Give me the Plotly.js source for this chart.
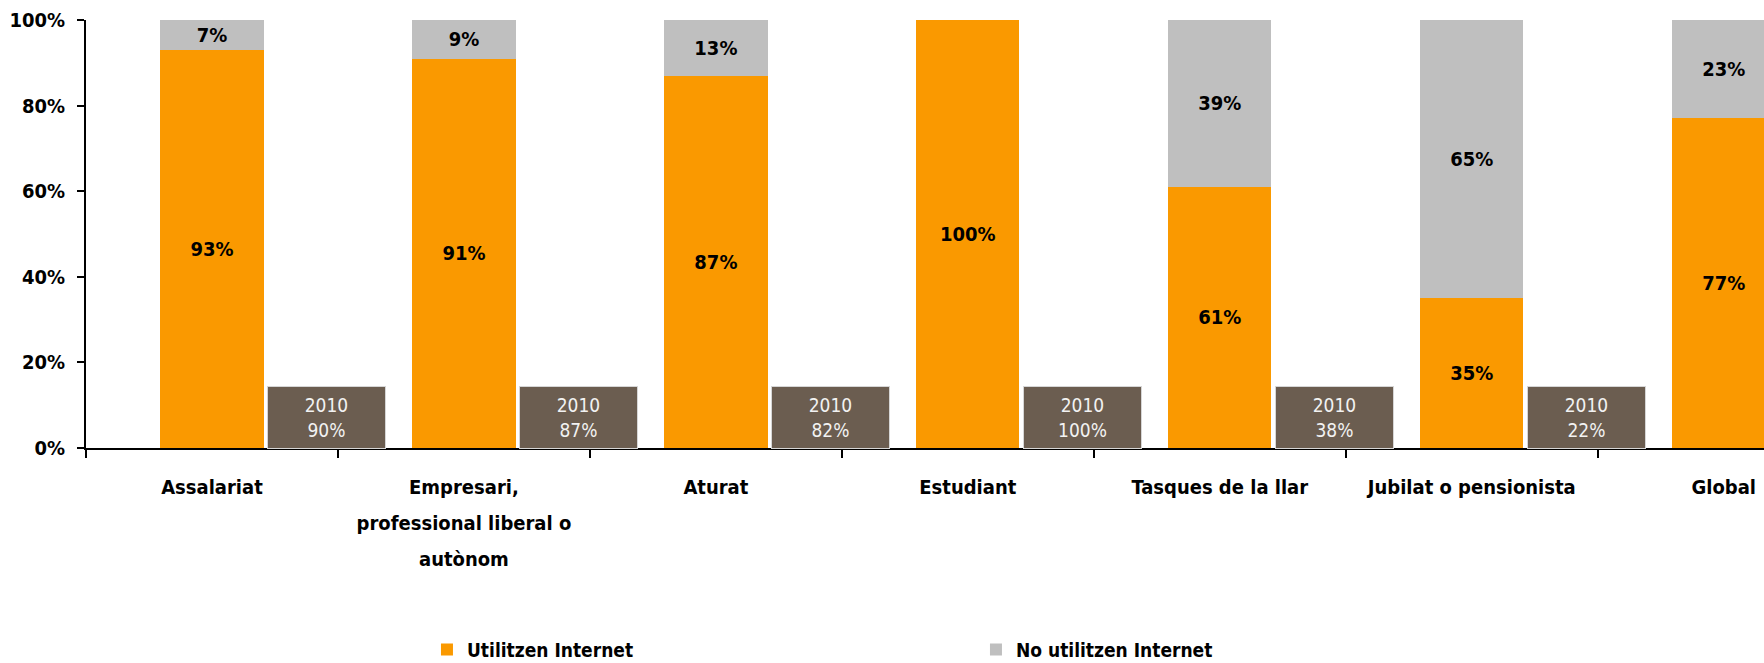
<!DOCTYPE html>
<html>
<head>
<meta charset="utf-8">
<script src="https://cdn.plot.ly/plotly-3.0.1.min.js"></script>
<style>
  html, body { margin: 0; padding: 0; background: #ffffff; }
  #chart { width: 1764px; height: 663px; }
</style>
</head>
<body>
<div id="chart"></div>
<script>
// ---- Data ----
const categories = [
  'Assalariat',
  'Empresari, professional liberal o autònom',
  'Aturat',
  'Estudiant',
  'Tasques de la llar',
  'Jubilat o pensionista',
  'Global'
];
const tickLabels = [
  'Assalariat',
  'Empresari,<br>professional liberal o<br>autònom',
  'Aturat',
  'Estudiant',
  'Tasques de la llar',
  'Jubilat o pensionista',
  'Global'
];
const utilitzen = [93, 91, 87, 100, 61, 35, 77];
const noUtilitzen = [7, 9, 13, 0, 39, 65, 23];
const utilitzen2010 = [90, 87, 82, 100, 38, 22, null];
const label2010 = '2010';

// ---- Styles ----
const FONT = "'DejaVu Sans Condensed', 'DejaVu Sans', sans-serif";
const ORANGE = '#fa9900';
const GREY = '#bfbfbf';
const BOX = '#6b5d50';

const pct = v => (v > 0 ? v + '%' : '');

const traces = [
  {
    type: 'bar',
    name: 'Utilitzen Internet',
    x: categories,
    y: utilitzen,
    width: 0.41,
    marker: { color: ORANGE, line: { width: 0 } },
    text: utilitzen.map(pct),
    textposition: 'inside',
    insidetextanchor: 'middle',
    textangle: 0,
    constraintext: 'none',
    textfont: { family: FONT, size: 20, color: '#000000', weight: 'bold' },
    hoverinfo: 'x+y'
  },
  {
    type: 'bar',
    name: 'No utilitzen Internet',
    x: categories,
    y: noUtilitzen,
    width: 0.41,
    marker: { color: GREY, line: { width: 0 } },
    text: noUtilitzen.map(pct),
    textposition: 'inside',
    insidetextanchor: 'middle',
    textangle: 0,
    constraintext: 'none',
    textfont: { family: FONT, size: 20, color: '#000000', weight: 'bold' },
    hoverinfo: 'x+y'
  }
];

const annotations = [];
utilitzen2010.forEach((v, i) => {
  if (v === null) return;
  annotations.push({
    xref: 'x', yref: 'y',
    x: i + 0.454, y: 0,
    xanchor: 'center', yanchor: 'bottom',
    yshift: -1,
    text: label2010 + '<br>' + v + '%',
    showarrow: false,
    width: 115, height: 59,
    bgcolor: BOX,
    bordercolor: '#d6d6d6',
    borderwidth: 1,
    borderpad: 1,
    font: { family: FONT, size: 19, color: '#f2f2f2' }
  });
});

const layout = {
  width: 1764,
  height: 663,
  margin: { l: 86, r: 0, t: 20, b: 215, autoexpand: false },
  paper_bgcolor: '#ffffff',
  plot_bgcolor: '#ffffff',
  barmode: 'stack',
  showlegend: true,
  legend: {
    orientation: 'h',
    x: 0.2032, xanchor: 'left',
    yref: 'container',
    y: 0.02, yanchor: 'middle',
    traceorder: 'normal',
    entrywidth: 504,
    font: { family: FONT, size: 19, color: '#000000', weight: 'bold' },
    bgcolor: 'rgba(0,0,0,0)'
  },
  xaxis: {
    type: 'category',
    range: [-0.5, 6.16],
    tickmode: 'array',
    tickvals: categories,
    ticktext: tickLabels,
    tickson: 'boundaries',
    ticks: 'outside',
    ticklen: 8,
    tickwidth: 2,
    tickcolor: '#000000',
    showline: true,
    linecolor: '#000000',
    linewidth: 2,
    showgrid: false,
    zeroline: false,
    automargin: false,
    ticklabelstandoff: 20,
    tickfont: { family: FONT, size: 20, color: '#000000', weight: 'bold' }
  },
  yaxis: {
    range: [0, 100],
    tickmode: 'array',
    tickvals: [0, 20, 40, 60, 80, 100],
    ticktext: ['0%', '20%', '40%', '60%', '80%', '100%'],
    ticks: 'outside',
    ticklen: 7,
    tickwidth: 2,
    tickcolor: '#000000',
    showline: true,
    linecolor: '#000000',
    linewidth: 2,
    showgrid: false,
    zeroline: false,
    automargin: false,
    ticklabelstandoff: 8,
    tickfont: { family: FONT, size: 20, color: '#000000', weight: 'bold' }
  },
  annotations: annotations
};

Plotly.newPlot('chart', traces, layout, { staticPlot: true, displayModeBar: false }).then(gd => {
  // widen line spacing of multi-line category labels to match the reference
  gd.querySelectorAll('.xtick text tspan.line').forEach(t => {
    const dy = t.getAttribute('dy');
    if (dy && dy.endsWith('em')) {
      const v = parseFloat(dy);
      t.setAttribute('dy', (v * 1.8 / 1.3) + 'em');
    }
  });
});
</script>
</body>
</html>
